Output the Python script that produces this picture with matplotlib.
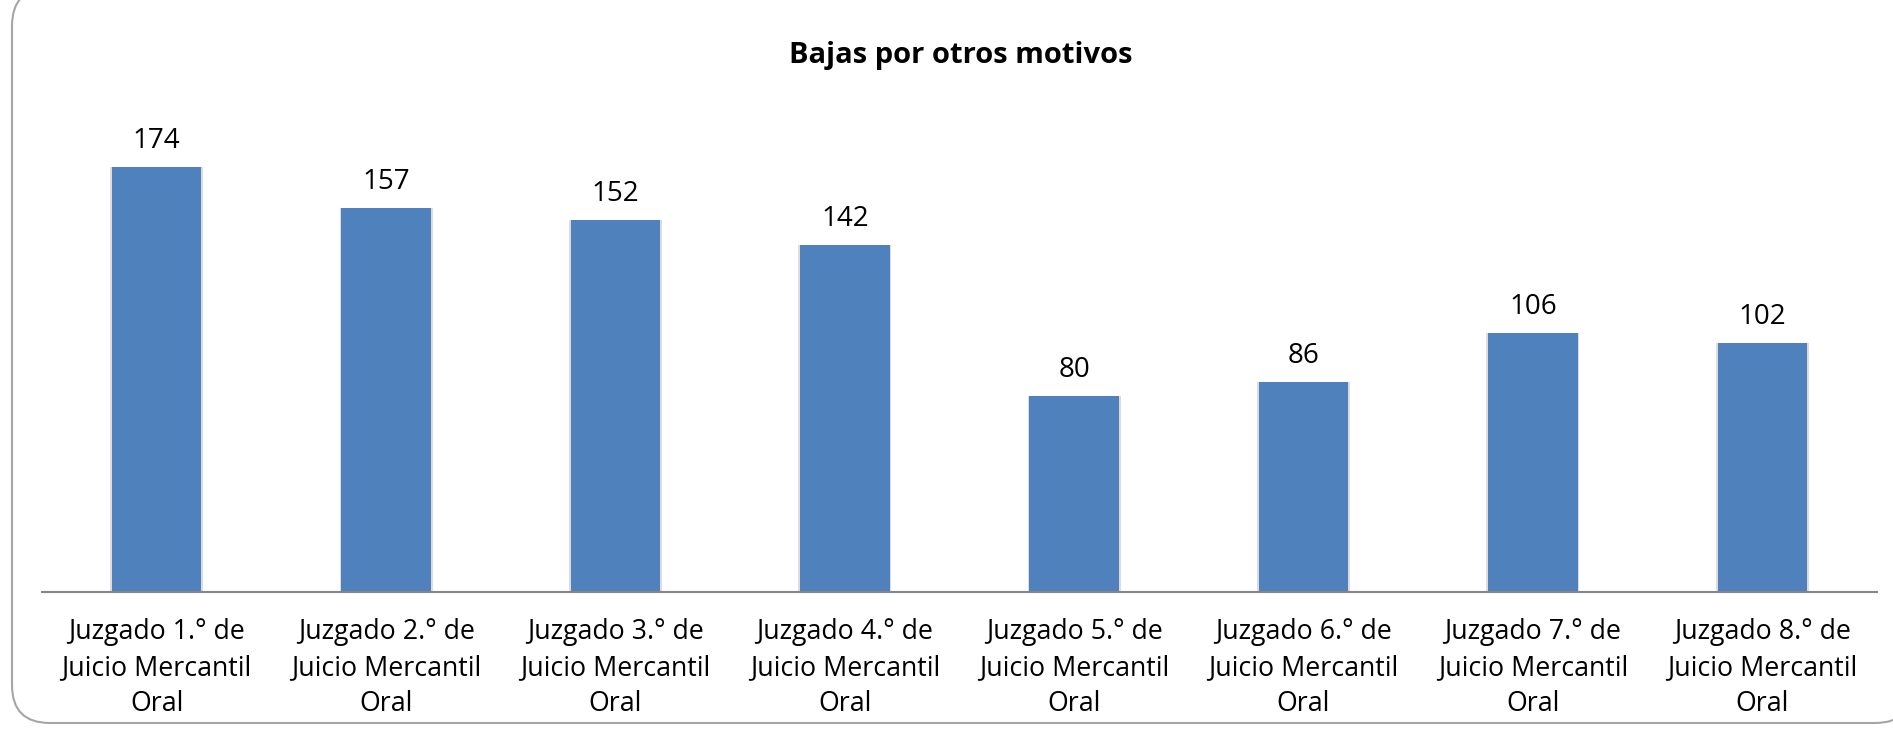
import matplotlib.pyplot as plt
from matplotlib.patches import FancyBboxPatch

plt.rcParams['font.family'] = ['Open Sans', 'DejaVu Sans']

juzgados = ["1.°", "2.°", "3.°", "4.°", "5.°", "6.°", "7.°", "8.°"]
bajas = [174, 157, 152, 142, 80, 86, 106, 102]
labels = [f"Juzgado {j} de\nJuicio Mercantil\nOral" for j in juzgados]

W, H = 1893, 729
fig = plt.figure(figsize=(W / 100, H / 100), dpi=100)

# rounded chart border like the office chart area
frame = FancyBboxPatch((12 / W, 6 / H), (W + 20 - 12) / W, (H + 12 - 6) / H,
                       boxstyle="round,pad=0,rounding_size=0.02",
                       transform=fig.transFigure, facecolor="white",
                       edgecolor="#a6a6a6", linewidth=1.5,
                       mutation_aspect=W / H, zorder=-10)
fig.patches.append(frame)

ax = fig.add_axes([42 / W, 1 - 592 / H, (1877 - 42) / W, (592 - 103) / H])
ax.set_facecolor("none")
ax.set_zorder(5)

x = range(len(bajas))
# faint shadow behind the bars
ax.bar(x, bajas, width=0.405, color="#dcdcdc", zorder=1)
bars = ax.bar(x, bajas, width=0.39, color="#4f81bd", zorder=2)

for b, v in zip(bars, bajas):
    ax.annotate(str(v), (b.get_x() + b.get_width() / 2, v),
                xytext=(0, 12), textcoords="offset pixels",
                ha="center", va="bottom", fontsize=20, color="black")

ax.set_xlim(-0.5, len(bajas) - 0.5)
ax.set_ylim(0, 200)
ax.set_xticks(list(x))
ax.set_xticklabels(labels, fontsize=19.3, linespacing=1.4)
ax.tick_params(axis="x", length=0, pad=18.5)
ax.set_yticks([])
for s in ["left", "right", "top"]:
    ax.spines[s].set_visible(False)
ax.spines["bottom"].set_color("#868686")
ax.spines["bottom"].set_linewidth(1.5)

fig.text(961 / W, 1 - 55 / H, "Bajas por otros motivos", ha="center",
         va="center", fontsize=21, fontweight="bold")

fig.savefig("out.png", dpi=100)
